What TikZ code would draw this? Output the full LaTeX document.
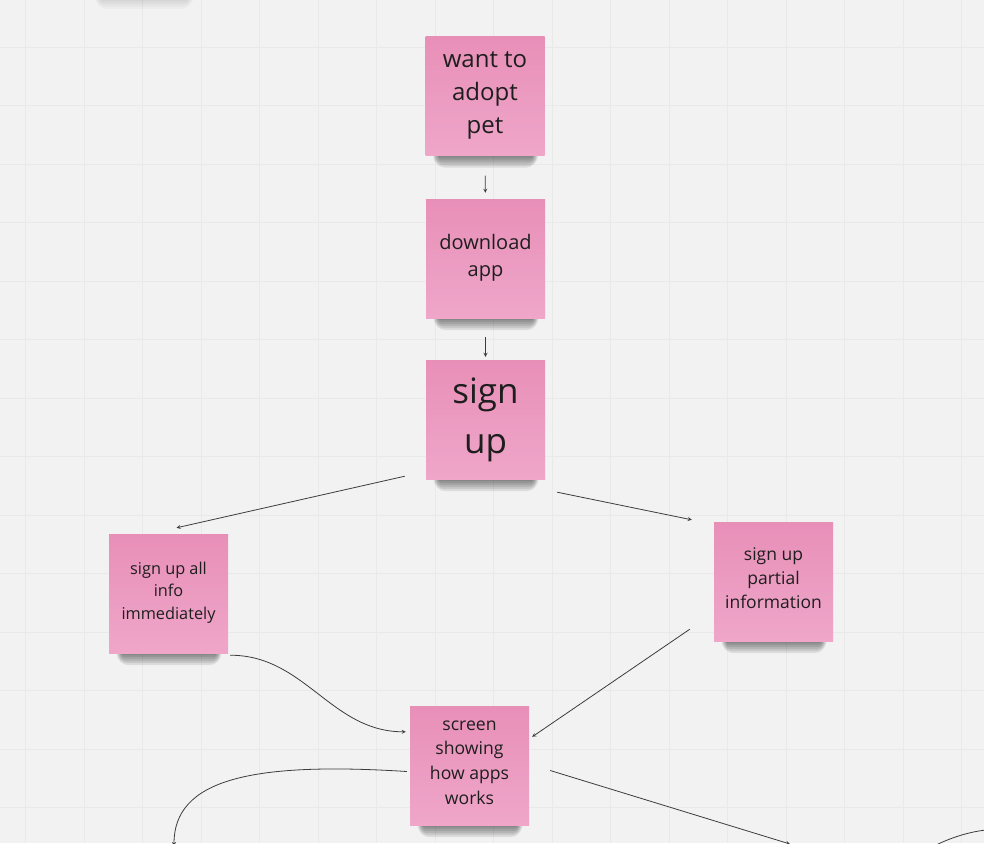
\documentclass[tikz,border=0pt]{standalone}
\usepackage{fontspec}
\setmainfont{Open Sans}
\usepackage{tikz}
\usetikzlibrary{shapes}
\usetikzlibrary{arrows}
\usetikzlibrary{calc}
\definecolor{fond}{RGB}{242,242,242}
\definecolor{grille}{RGB}{233,233,233}
\definecolor{rosehaut}{RGB}{232,143,184}
\definecolor{rosebas}{RGB}{239,166,201}
\definecolor{texte}{RGB}{30,30,30}
\definecolor{fleche}{RGB}{60,60,60}
\pgfdeclarelayer{dessous}
\pgfsetlayers{dessous,main}
\tikzstyle{quadrillage}=[grille,line width=1pt]
\tikzstyle{ombre}=[black,opacity=0.09]
\tikzstyle{postit}=[
        rectangle,
        minimum width=119pt,
        minimum height=119pt,
        inner sep=0pt,
        align=center,
        text=texte,
        top color=rosehaut,
        bottom color=rosebas,
        execute at end node={\rule[-6pt]{0pt}{0pt}}
]
\tikzstyle{suite}=[->,>=stealth,fleche,line width=0.8pt]
\tikzstyle{trait}=[fleche,line width=0.8pt]

\begin{document}
\begin{tikzpicture}[x=1pt,y=-1pt]
\useasboundingbox (0,0) rectangle (984,843);
\begin{pgfonlayer}{dessous}
\fill[fond] (0,0) rectangle (984,843);
\foreach \x in {0,...,16} \draw[quadrillage] ({25.7+58.5*\x},0) -- ({25.7+58.5*\x},843);
\foreach \y in {0,...,13} \draw[quadrillage] (0,{47.3+58.5*\y}) -- (984,{47.3+58.5*\y});
\end{pgfonlayer}
\node[postit,font=\fontsize{24}{33}\selectfont] (a) at (485,96) {want to\\adopt\\pet};
\node[postit,font=\fontsize{20}{27}\selectfont] (b) at (485.5,258.5) {download\\app};
\node[postit,font=\fontsize{35}{50}\selectfont] (c) at (485.5,419.5) {sign\\up};
\node[postit,font=\fontsize{16.3}{22.5}\selectfont] (d) at (168.5,593.5) {sign up all\\info\\immediately};
\node[postit,font=\fontsize{17.5}{24}\selectfont] (e) at (773.5,581.5) {sign up\\partial\\information};
\node[postit,font=\fontsize{17.6}{24.7}\selectfont] (f) at (469.5,765.5) {screen\\showing\\how apps\\works};
\coordinate (g) at (174,846);
\coordinate (h) at (790,844);
\coordinate (i) at (934,846);
\coordinate (j) at (986,830);
%ombres
\begin{pgfonlayer}{dessous}
\foreach \n in {a,b,c,d,e,f}
  \foreach \k in {1,...,6}
    \fill[ombre,rounded corners={2*\k}] ($(\n.south west)+({14-\k},-8)$) rectangle ($(\n.south east)+({-13+\k},{2*\k})$);
\foreach \k in {1,...,6}
  \fill[black,opacity=0.025,rounded corners={2*\k}] ({101-\k},-10) rectangle ({187+\k},{-3+2*\k});
\end{pgfonlayer}
%fleches
\draw[suite,shorten <=20pt,shorten >=6pt] (a) -- (b);
\draw[suite,shorten <=19pt,shorten >=3pt] (b) -- (c);
\draw[suite] ($(c.south west)+(-21,-3)$) -- ($(d.north)+(8,-6)$);
\draw[suite] ($(c.south east)+(12,13)$) -- ($(e.north west)+(-22,-2)$);
\draw[suite] ($(d.south east)+(2,2)$) .. controls +(75,0) and +(-75,0) .. ($(f.north west)+(-4,26)$);
\draw[suite] ($(e.south west)+(-24,-12)$) -- ($(f.north east)+(3,31)$);
\draw[suite] ($(f.west)+(-3,6)$) .. controls +(-157,-10) and +(0,-66) .. (g);
\draw[suite] ($(f.east)+(21,5)$) -- (h);
\draw[trait] (i) .. controls (950,838) and (968,832) .. (j);
\end{tikzpicture}
\end{document}
